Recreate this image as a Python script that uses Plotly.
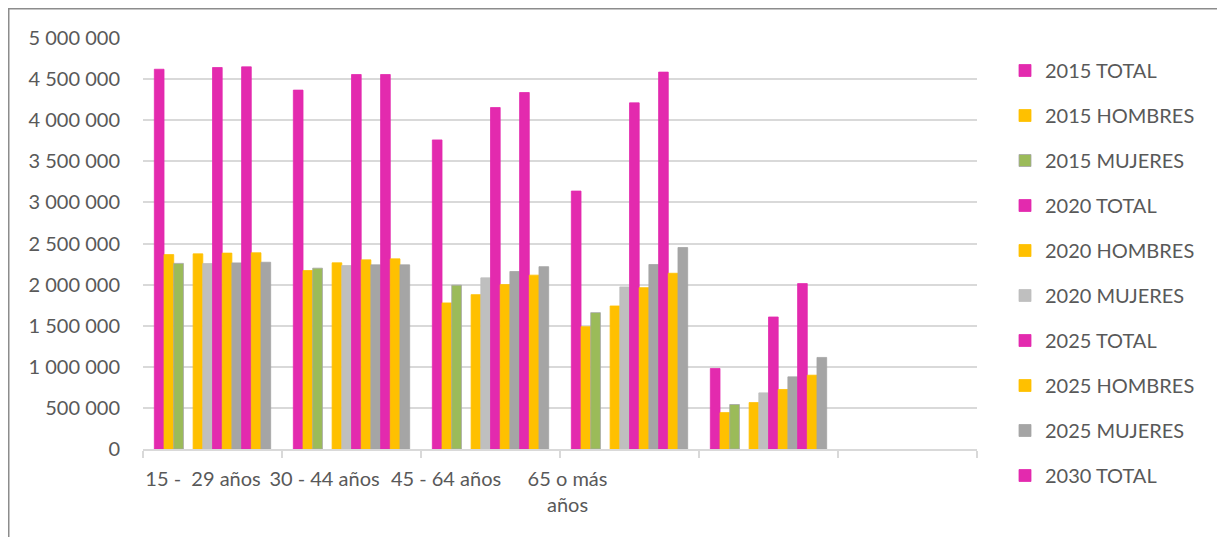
import plotly.graph_objects as go

# ---- data ----
categories = ["15 -  29 años", "30 - 44 años", "45 - 64 años", "65 o más años", " ", "  "]
tick_labels = ["15 -  29 años", "30 - 44 años", "45 - 64 años", "65 o más<br>años"]

series_names = [
    "2015 TOTAL", "2015 HOMBRES", "2015 MUJERES",
    "2020 TOTAL", "2020 HOMBRES", "2020 MUJERES",
    "2025 TOTAL", "2025 HOMBRES", "2025 MUJERES",
    "2030 TOTAL", "2030 HOMBRES", "2030 MUJERES",
]

s2015_total = [4620000, 4366000, 3760000, 3138000, 980000, None]
s2015_hombres = [2365000, 2171000, 1777000, 1488000, 443000, None]
s2015_mujeres = [2258000, 2200000, 1993000, 1659000, 541000, None]
s2020_total = [None, None, None, None, None, None]
s2020_hombres = [2374000, 2265000, 1878000, 1740000, 565000, None]
s2020_mujeres = [2256000, 2232000, 2082000, 1972000, 683000, None]
s2025_total = [4641000, 4556000, 4154000, 4211000, 1606000, None]
s2025_hombres = [2383000, 2301000, 2000000, 1963000, 724000, None]
s2025_mujeres = [2264000, 2240000, 2159000, 2244000, 878000, None]
s2030_total = [4649000, 4556000, 4337000, 4585000, 2012000, None]
s2030_hombres = [2387000, 2313000, 2115000, 2138000, 898000, None]
s2030_mujeres = [2272000, 2240000, 2218000, 2451000, 1114000, None]

series_values = [
    s2015_total, s2015_hombres, s2015_mujeres,
    s2020_total, s2020_hombres, s2020_mujeres,
    s2025_total, s2025_hombres, s2025_mujeres,
    s2030_total, s2030_hombres, s2030_mujeres,
]

# ---- styles ----
PINK = "#E32AAE"
YELLOW = "#FFC000"
GREEN = "#9BBB59"
LGRAY = "#BFBFBF"
DGRAY = "#A5A5A5"
colors = [PINK, YELLOW, GREEN, PINK, YELLOW, LGRAY, PINK, YELLOW, DGRAY, PINK, YELLOW, DGRAY]
line_colors = [PINK, YELLOW, DGRAY, PINK, YELLOW, LGRAY, PINK, YELLOW, DGRAY, PINK, YELLOW, DGRAY]
show_leg = [True] * 10 + [False, False]
legend_ids = ["legend"] * 5 + ["legend2"] * 7

TXT = "#595959"
GRID = "#D9D9D9"

fig = go.Figure()
for i, (name, vals) in enumerate(zip(series_names, series_values)):
    fig.add_trace(go.Bar(
        x=categories, y=vals, name=name,
        marker=dict(color=colors[i], line=dict(color=line_colors[i], width=0.8)),
        showlegend=show_leg[i], legendgroup="g%d" % i, legend=legend_ids[i],
        hoverinfo="x+y+name",
    ))

# dummy trace to anchor label axis
fig.add_trace(go.Scatter(x=[0], y=[None], xaxis="x2", yaxis="y", showlegend=False,
                         hoverinfo="skip", mode="markers"))

# page has an 8px body margin; figure sized to fit the window
W, H = 1217, 529
L, R, T, B = 135, 248, 30, 88
pw = W - L - R
ph = H - T - B

leg_common = dict(
    x=(997 - L) / pw, xanchor="left", yanchor="top",
    font=dict(size=20, color=TXT),
    tracegroupgap=16, bgcolor="rgba(0,0,0,0)",
)

fig.update_layout(
    width=W, height=H,
    margin=dict(l=L, r=R, t=T, b=B),
    paper_bgcolor="white", plot_bgcolor="white",
    font=dict(family="Lato, 'Liberation Sans', sans-serif", size=20, color=TXT),
    separators=", ",
    barmode="group", bargap=0.163, bargroupgap=0,
    xaxis=dict(
        type="category", tickson="boundaries", ticks="outside", ticklen=7,
        tickcolor=GRID, tickwidth=1.5, showline=True, linecolor=GRID, linewidth=1.5,
        showticklabels=False, showgrid=False, zeroline=False,
        categoryorder="array", categoryarray=categories,
    ),
    xaxis2=dict(
        overlaying="x", anchor="y", side="bottom",
        range=[-0.494, 6.370], tickvals=[0, 1, 2, 3], ticktext=tick_labels,
        showgrid=False, showline=False, zeroline=False, ticks="",
        ticklabelstandoff=16, tickfont=dict(size=20, color=TXT),
    ),
    yaxis=dict(
        range=[0, 5000000], dtick=500000, tickformat=",.0f",
        showgrid=True, gridcolor=GRID, gridwidth=1.5,
        showline=False, zeroline=False, ticks="", ticklabelstandoff=22,
    ),
    legend=dict(y=(H - B - 43) / ph, **leg_common),
    legend2=dict(y=(H - B - 268) / ph, **leg_common),
    shapes=[dict(
        type="rect", xref="paper", yref="paper",
        x0=(0.75 - L) / pw, x1=(1216 - L) / pw,
        y0=(H - B - 600) / ph, y1=(H - B - 0.75) / ph,
        line=dict(color="#8C8C8C", width=1.5), fillcolor="rgba(0,0,0,0)",
        layer="below",
    )],
)

fig.write_html("out.html")
